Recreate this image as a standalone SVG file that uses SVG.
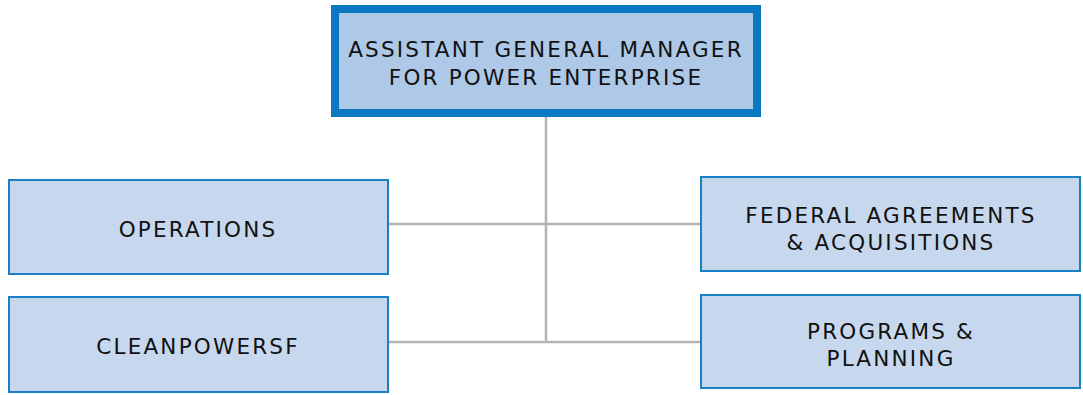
<svg xmlns="http://www.w3.org/2000/svg" width="1083" height="395" viewBox="0 0 1083 395">
<style>
.box{fill:#c7d8ee;stroke:#1a7fc4;stroke-width:2}
.top{fill:#aec8e8;stroke:#0a79c2;stroke-width:8}
.lbl{font-family:"DejaVu Sans","Liberation Sans",sans-serif;font-size:21.5px;fill:#111;text-anchor:middle;letter-spacing:2.2px}
.ln{stroke:#b3b3b3;stroke-width:2.5;fill:none}
</style>
<rect width="1083" height="395" fill="#fff"/>
<g id="connectors">
<line class="ln" x1="546" y1="117" x2="546" y2="343"/>
<line class="ln" x1="388" y1="224" x2="701" y2="224"/>
<line class="ln" x1="388" y1="342" x2="701" y2="342"/>
</g>
<g id="agm">
<rect class="top" x="335" y="9" width="422" height="104"/>
<text class="lbl" x="546" y="57">ASSISTANT GENERAL MANAGER</text>
<text class="lbl" x="546" y="85">FOR POWER ENTERPRISE</text>
</g>
<g id="operations">
<rect class="box" x="9" y="180" width="379" height="94"/>
<text class="lbl" x="198" y="237">OPERATIONS</text>
</g>
<g id="federal">
<rect class="box" x="701" y="177" width="379" height="94"/>
<text class="lbl" x="891" y="223">FEDERAL AGREEMENTS</text>
<text class="lbl" x="891" y="250">&amp; ACQUISITIONS</text>
</g>
<g id="cleanpowersf">
<rect class="box" x="9" y="297" width="379" height="95"/>
<text class="lbl" x="198" y="354">CLEANPOWERSF</text>
</g>
<g id="programs">
<rect class="box" x="701" y="295" width="379" height="93"/>
<text class="lbl" x="891" y="339">PROGRAMS &amp;</text>
<text class="lbl" x="891" y="366">PLANNING</text>
</g>
</svg>
